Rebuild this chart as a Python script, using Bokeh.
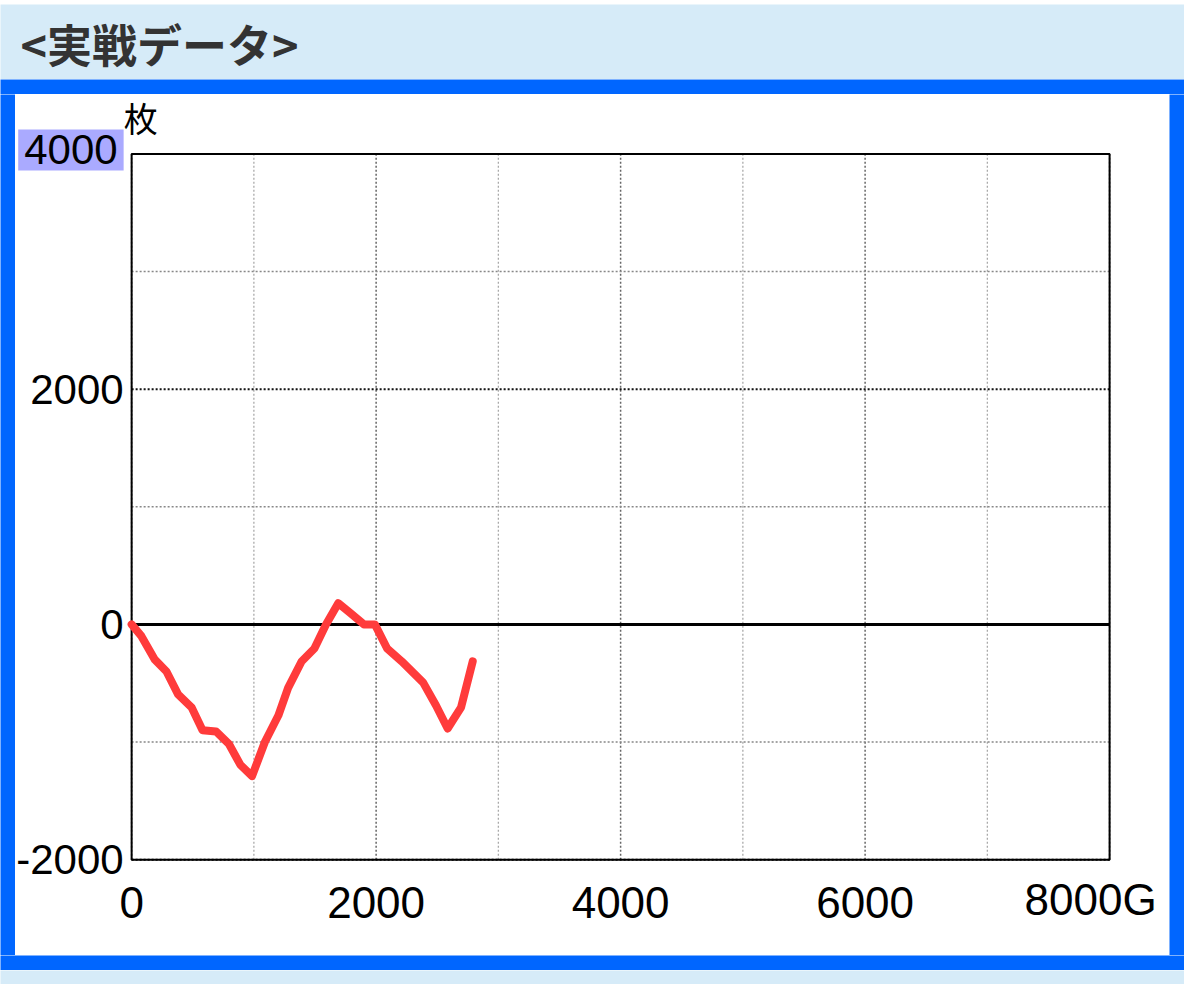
from bokeh.plotting import figure
from bokeh.models import Range1d, FixedTicker, Label
from bokeh.layouts import column, row
from bokeh.embed import file_html
from bokeh.resources import INLINE

# ---- data ----
games = [0, 80, 190, 285, 380, 490, 580, 690, 795, 890, 985, 1090, 1200, 1280,
         1390, 1495, 1590, 1690, 1790, 1900, 1990, 2090, 2210, 2385, 2490, 2585,
         2695, 2790]
coins = [0, -100, -300, -400, -595, -705, -900, -910, -1015, -1195, -1290, -1000,
         -775, -540, -315, -205, 0, 180, 95, 0, 0, -205, -315, -495, -690, -885,
         -705, -315]

x_ticks = [0, 2000, 4000, 6000, 8000]
x_minor = [1000, 3000, 5000, 7000]
y_ticks = [-2000, 0, 2000, 4000]
y_minor = [-1000, 1000, 3000]
x_labels = {0: "0", 2000: "2000", 4000: "4000", 6000: "6000", 8000: ""}
y_labels = {-2000: "-2000", 0: "0", 2000: "2000", 4000: ""}
top_y_label = "4000"
last_x_label = "8000G"
unit_label = "枚"
title_text = "<実戦データ>"

BLUE = "#0066ff"
LIGHT = "#d6ebf8"
TICK_FONT = "Liberation Sans"
CJK_FONT = "Noto Sans CJK JP"


def strip(w, h, color):
    return figure(width=w, height=h, x_axis_type=None, y_axis_type=None,
                  toolbar_location=None, output_backend="svg", min_border=0,
                  outline_line_color=None, background_fill_color=color,
                  border_fill_color=color, x_range=Range1d(0, 1), y_range=Range1d(0, 1))


band_top0 = strip(1184, 4, BLUE)
header = strip(1184, 75, LIGHT)
header.add_layout(Label(x=0, y=0.48, x_offset=20, text=title_text,
                        text_baseline="middle", text_align="left",
                        text_font_size="45px", text_font_style="bold",
                        text_color="#333333", text_font=CJK_FONT))
band_top = strip(1184, 15, BLUE)
left_strip = strip(15, 861, BLUE)
right_strip = strip(15, 861, BLUE)
band_bottom = strip(1184, 15, BLUE)
band_last = strip(1184, 14, LIGHT)

# main chart: the frame covers the whole white panel; chart box = tick extents
p = figure(width=1154, height=861,
           x_range=Range1d(-950, 8490), y_range=Range1d(-2815, 4505),
           toolbar_location=None, output_backend="svg", min_border=0,
           background_fill_color="white", border_fill_color="white",
           outline_line_color=None)
p.xgrid.visible = False
p.ygrid.visible = False

x_lo, x_hi = x_ticks[0], x_ticks[-1]
y_lo, y_hi = y_ticks[0], y_ticks[-1]

# grid lines
p.segment(x0=x_minor, y0=[y_lo] * len(x_minor), x1=x_minor, y1=[y_hi] * len(x_minor),
          line_color="#aaaaaa", line_width=1.3, line_dash="2 2")
p.segment(x0=x_ticks, y0=[y_lo] * len(x_ticks), x1=x_ticks, y1=[y_hi] * len(x_ticks),
          line_color="#666666", line_width=1.5, line_dash="2 2")
p.segment(x0=[x_lo] * len(y_minor), y0=y_minor, x1=[x_hi] * len(y_minor), y1=y_minor,
          line_color="#888888", line_width=1.3, line_dash="2 2")
p.segment(x0=[x_lo] * len(y_ticks), y0=y_ticks, x1=[x_hi] * len(y_ticks), y1=y_ticks,
          line_color="#111111", line_width=2, line_dash="2 2")
# zero line
p.segment(x0=[x_lo], y0=[0], x1=[x_hi], y1=[0], line_color="black", line_width=3)
# chart box
p.quad(left=[x_lo], right=[x_hi], bottom=[y_lo], top=[y_hi], fill_color=None,
       line_color="black", line_width=2)

p.line(games, coins, line_color="#ff3b3b", line_width=8, line_join="round", line_cap="round")

p.xaxis.fixed_location = y_lo
p.yaxis.fixed_location = x_lo
p.xaxis.ticker = FixedTicker(ticks=x_ticks, minor_ticks=x_minor)
p.yaxis.ticker = FixedTicker(ticks=y_ticks, minor_ticks=y_minor)
p.xaxis.major_label_overrides = x_labels
p.yaxis.major_label_overrides = y_labels
for ax in (p.xaxis, p.yaxis):
    ax.axis_line_color = None
    ax.major_tick_line_color = None
    ax.minor_tick_line_color = None
    ax.major_tick_out = 0
    ax.major_tick_in = 0
    ax.minor_tick_out = 0
    ax.minor_tick_in = 0
    ax.major_label_text_font = TICK_FONT
    ax.major_label_text_color = "black"
p.xaxis.major_label_text_font_size = "44px"
p.yaxis.major_label_text_font_size = "42px"
p.xaxis.major_label_standoff = 27
p.yaxis.major_label_standoff = 8

hl = dict(x=x_lo, y=y_hi, x_offset=-8, y_offset=4, text=top_y_label, text_align="right",
          text_baseline="middle", text_font=TICK_FONT, text_font_size="42px",
          text_color="black", background_fill_color="#aaaaff")
if "padding" in Label.properties():
    hl["padding"] = 6
p.add_layout(Label(**hl))
p.add_layout(Label(x=x_lo, y=y_hi, x_offset=-8, y_offset=12, text=unit_label,
                   text_align="left", text_baseline="bottom",
                   text_font=CJK_FONT, text_font_size="34px", text_color="black"))
p.add_layout(Label(x=x_hi, y=y_lo, x_offset=-19, y_offset=-15, text=last_x_label,
                   text_align="center", text_baseline="top", text_font=TICK_FONT,
                   text_font_size="44px", text_color="black"))

layout = column(band_top0, header, band_top, row(left_strip, p, right_strip),
                band_bottom, band_last)

open("out.html", "w").write(file_html(layout, INLINE))
